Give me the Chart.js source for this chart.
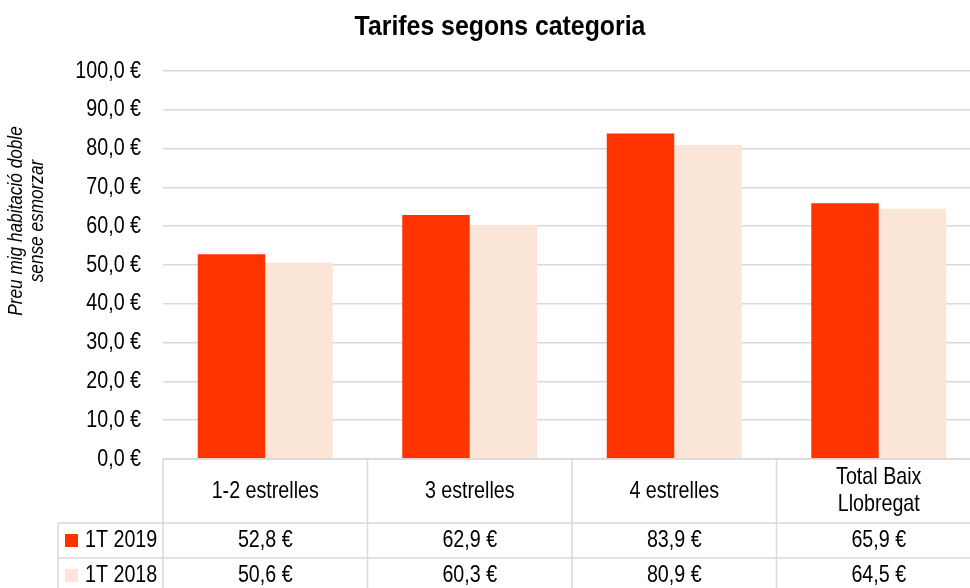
<!DOCTYPE html>
<html>
<head>
<meta charset="utf-8">
<script src="https://cdn.jsdelivr.net/npm/chart.js@4/dist/chart.umd.min.js"></script>
<style>
  html, body { margin: 0; padding: 0; background: #fff; overflow: hidden; }
  #wrap { width: 984px; height: 588px; }
</style>
</head>
<body>
<div id="wrap"><canvas id="grafic"></canvas></div>
<script>
const categories = ['1-2 estrelles', '3 estrelles', '4 estrelles', ['Total Baix', 'Llobregat']];
const seriesLabels = ['1T 2019', '1T 2018'];
const valors2019 = [52.8, 62.9, 83.9, 65.9];
const valors2018 = [50.6, 60.3, 80.9, 64.5];
const yTicks = [0, 10, 20, 30, 40, 50, 60, 70, 80, 90, 100];
const titol = 'Tarifes segons categoria';
const titolEix = ['Preu mig habitació doble', 'sense esmorzar'];

const colors = ['#FF3300', '#FBE5D6'];
const FONT = '"Liberation Sans", Arial, sans-serif';
const vora = '#D9D9D9';
const ESTRET = 0.82; // imita Arial Narrow

const euro = v => v.toFixed(1).replace('.', ',') + ' €';

// text estret: escala horitzontal
function text(ctx, t, x, y, align, font, sx) {
  ctx.save();
  ctx.translate(x, y);
  ctx.scale(sx || ESTRET, 1);
  ctx.font = font;
  ctx.textAlign = align;
  ctx.fillText(t, 0, 0);
  ctx.restore();
}

const etiquetes = {
  id: 'etiquetes',
  afterDraw(chart) {
    const { ctx, scales } = chart;
    ctx.save();
    ctx.fillStyle = '#000';
    ctx.textBaseline = 'middle';
    // títol
    text(ctx, titol, 500, 28, 'center', 'bold 27px ' + FONT, 0.92);
    // marques de l'eix Y
    yTicks.forEach(v => {
      text(ctx, euro(v), 141, scales.y.getPixelForValue(v), 'right', '24px ' + FONT);
    });
    // títol de l'eix Y
    ctx.textBaseline = 'alphabetic';
    ctx.translate(0, 221);
    ctx.rotate(-Math.PI / 2);
    text(ctx, titolEix[0], 0, 22, 'center', 'italic 21px ' + FONT);
    text(ctx, titolEix[1], 0, 43, 'center', 'italic 21px ' + FONT);
    ctx.restore();
  }
};

// taula de dades sota el gràfic, com a Excel
const taula = {
  id: 'taula',
  afterDraw(chart) {
    const { ctx, chartArea, scales } = chart;
    const x = scales.x;
    const amplada = (chartArea.right - chartArea.left) / categories.length;
    const top = chartArea.bottom;
    const files = [top, top + 64, top + 99, top + 134];
    const esquerra = 58;
    const series = [valors2019, valors2018];
    const f = '24px ' + FONT;

    ctx.save();
    ctx.strokeStyle = vora;
    ctx.lineWidth = 1.5;
    ctx.beginPath();
    ctx.moveTo(chartArea.left, files[0]); ctx.lineTo(chartArea.right, files[0]);
    for (let r = 1; r < files.length; r++) {
      ctx.moveTo(esquerra, files[r]); ctx.lineTo(chartArea.right, files[r]);
    }
    for (let i = 0; i <= categories.length; i++) {
      const px = chartArea.left + i * amplada;
      ctx.moveTo(px, files[0]); ctx.lineTo(px, files[3]);
    }
    ctx.moveTo(esquerra, files[1]); ctx.lineTo(esquerra, files[3]);
    ctx.stroke();

    ctx.fillStyle = '#000';
    ctx.textBaseline = 'middle';
    categories.forEach((c, i) => {
      const cx = x.getPixelForValue(i);
      const linies = Array.isArray(c) ? c : [c];
      const cy = (files[0] + files[1]) / 2;
      linies.forEach((l, k) => {
        text(ctx, l, cx, cy + (k - (linies.length - 1) / 2) * 27, 'center', f);
      });
      series.forEach((s, r) => {
        text(ctx, euro(s[i]), cx, (files[r + 1] + files[r + 2]) / 2, 'center', f);
      });
    });

    // llegenda dins la taula
    seriesLabels.forEach((l, r) => {
      const cy = (files[r + 1] + files[r + 2]) / 2;
      ctx.fillStyle = colors[r];
      ctx.fillRect(65, cy - 6.5, 13, 13);
      ctx.fillStyle = '#000';
      text(ctx, l, 85, cy, 'left', f);
    });
    ctx.restore();
  }
};

new Chart(document.getElementById('grafic'), {
  type: 'bar',
  data: {
    labels: categories,
    datasets: [
      { label: seriesLabels[0], data: valors2019, backgroundColor: colors[0] },
      { label: seriesLabels[1], data: valors2018, backgroundColor: colors[1] }
    ]
  },
  options: {
    responsive: true,
    maintainAspectRatio: false,
    animation: false,
    categoryPercentage: 0.66,
    barPercentage: 1,
    layout: { padding: { top: 71, right: 3, bottom: 129, left: 0 } },
    plugins: {
      legend: { display: false },
      tooltip: { enabled: false },
      title: { display: false }
    },
    scales: {
      x: { display: false },
      y: {
        min: 0,
        max: 100,
        afterBuildTicks: s => { s.ticks = yTicks.map(v => ({ value: v })); },
        afterFit: s => { s.width = 163; },
        border: { display: false },
        grid: { color: vora, lineWidth: 1.5, drawTicks: false },
        ticks: { display: false }
      }
    }
  },
  plugins: [taula, etiquetes]
});
</script>
</body>
</html>
